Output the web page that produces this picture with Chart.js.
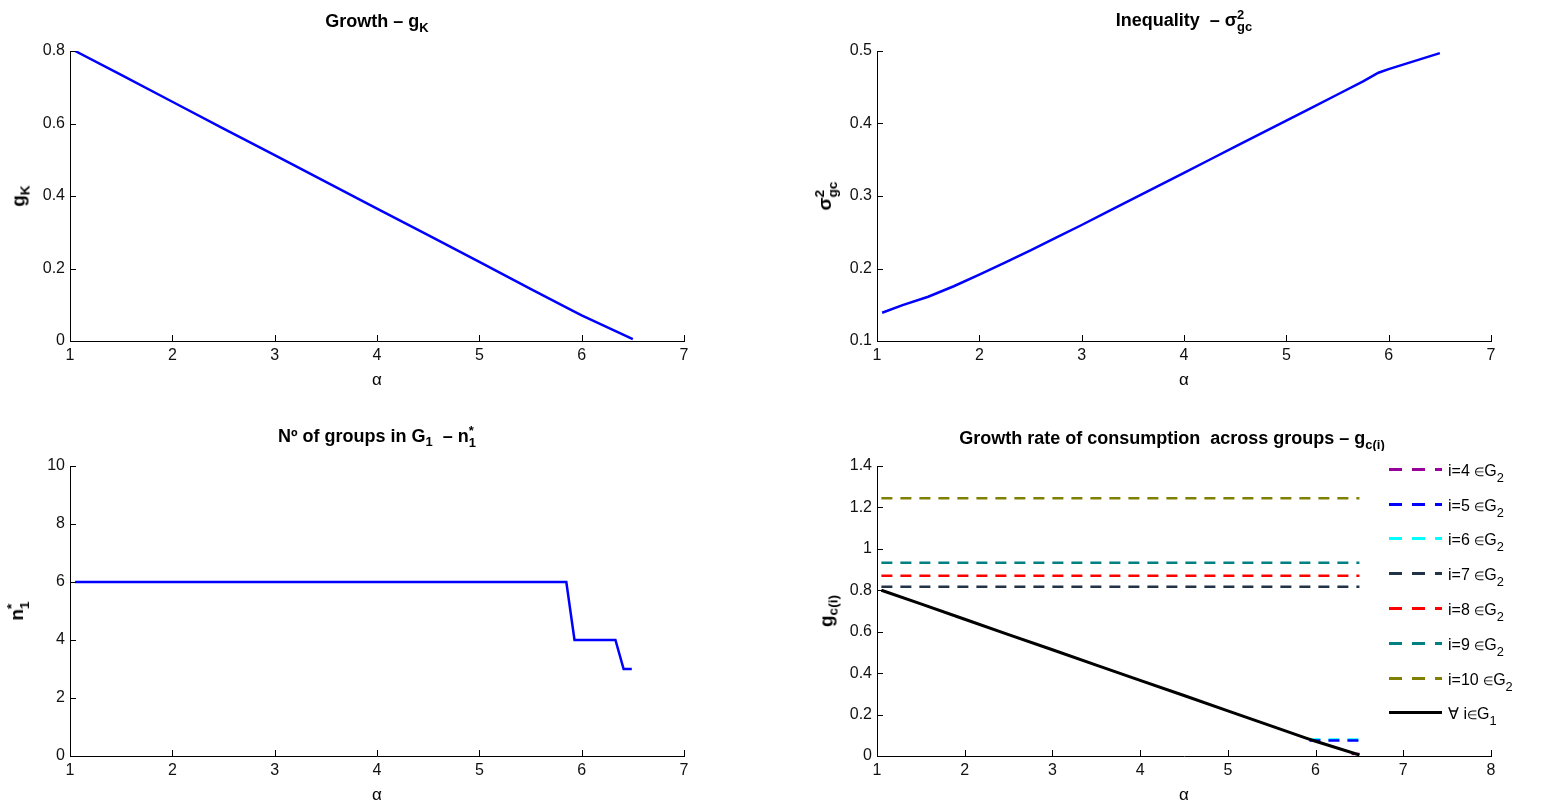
<!DOCTYPE html>
<html>
<head>
<meta charset="UTF-8">
<style>
  body { margin: 0; background: #fff; }
  #wrap { position: relative; width: 1541px; height: 805px; overflow: hidden; font-family: "Liberation Sans", Arial, sans-serif; color: #000; }
  canvas { position: absolute; }
  .lbl { position: absolute; transform: translate(-50%, -50%); white-space: nowrap; font-size: 17px; line-height: 1; }
  .ttl { font-weight: bold; font-size: 18px; }
  .rot { transform: translate(-50%, -50%) rotate(-90deg); font-weight: bold; font-size: 19px; }
  sub, sup { font-size: 0.72em; line-height: 0; }
  .st { display: inline-block; vertical-align: -0.42em; line-height: 0.95; font-size: 0.72em; }
  .st span { display: block; }
  .leg { position: absolute; left: 1389px; font-size: 16px; line-height: 1; }
  .leg div { position: absolute; white-space: nowrap; transform: translateY(-50%); }
  .leg i { display: inline-block; width: 53px; height: 3px; margin-right: 6px; vertical-align: 0.3em; }
  .leg b { font-weight: normal; font-size: 12px; }
  .leg sub { font-size: 0.8em; vertical-align: -0.5em; }
</style>
</head>
<body>
<div id="wrap">
  <canvas id="c1" width="720" height="400" style="left:0;top:0"></canvas>
  <canvas id="c2" width="740" height="400" style="left:800px;top:0"></canvas>
  <canvas id="c3" width="720" height="400" style="left:0;top:405px"></canvas>
  <canvas id="c4" width="741" height="400" style="left:800px;top:405px"></canvas>

  <div class="lbl ttl" style="left:377px;top:21px">Growth &ndash; g<sub>K</sub></div>
  <div class="lbl ttl" style="left:1184px;top:21px">Inequality &nbsp;&ndash; &sigma;<span class="st"><span>2</span><span>gc</span></span></div>
  <div class="lbl ttl" style="left:377px;top:437px">N&ordm; of groups in G<sub>1</sub> &nbsp;&ndash; n<span class="st"><span>*</span><span>1</span></span></div>
  <div style="position:absolute;left:0;top:420px;width:1541px;height:31px;overflow:hidden">
    <div class="lbl ttl" style="left:1172px;top:18px">Growth rate of consumption &nbsp;across groups &ndash; g<sub>c(i)</sub></div>
  </div>

  <div class="lbl rot" style="left:18px;top:196px">g<sub>K</sub></div>
  <div class="lbl rot" style="left:826px;top:196px">&sigma;<span class="st"><span>2</span><span>gc</span></span></div>
  <div class="lbl rot" style="left:18px;top:611px">n<span class="st"><span>*</span><span>1</span></span></div>
  <div class="lbl rot" style="left:826px;top:611px">g<sub>c(i)</sub></div>

  <div class="lbl" style="left:377px;top:379px">&alpha;</div>
  <div class="lbl" style="left:1184px;top:379px">&alpha;</div>
  <div class="lbl" style="left:377px;top:794px">&alpha;</div>
  <div class="lbl" style="left:1184px;top:794px">&alpha;</div>

  <div class="leg" id="legend"></div>
</div>

<script src="https://cdn.jsdelivr.net/npm/chart.js@4.4.1/dist/chart.umd.min.js"></script>
<script>
  // values
  const alpha = [1.05, 1.5, 2, 2.5, 3, 3.5, 4, 4.5, 5, 5.5, 5.9, 6, 6.5]
  const gK = [0.8, 0.734, 0.66, 0.586, 0.513, 0.439, 0.365, 0.292, 0.218, 0.144, 0.085, 0.071, 0.005]

  const sAlpha = [1.05, 1.25, 1.5, 1.75, 2, 2.25, 2.5, 2.75, 3, 3.25, 3.5, 3.75, 4, 4.25, 4.5, 4.75, 5, 5.25, 5.5, 5.75, 5.9, 6, 6.25, 6.5]
  const sigma2 = [0.139, 0.1495, 0.161, 0.1755, 0.1915, 0.208, 0.225, 0.2425, 0.260, 0.278, 0.296, 0.314, 0.332, 0.350, 0.368, 0.386, 0.404, 0.422, 0.440, 0.458, 0.470, 0.475, 0.486, 0.497]

  const nAlpha = [1.05, 5.85, 5.93, 6.33, 6.41, 6.49]
  const n1 = [6, 6, 4, 4, 3, 3]

  const groups = ['i=4', 'i=5', 'i=6', 'i=7', 'i=8', 'i=9', 'i=10']
  const groupLevel = [0.01, 0.075, 0.08, 0.817, 0.87, 0.933, 1.244]
  const groupFrom = [6.41, 5.93, 5.93, 1.05, 1.05, 1.05, 1.05]
  const groupTo = [6.5, 6.5, 6.5, 6.5, 6.5, 6.5, 6.5]
  const groupColor = ['#990099', '#0000ff', '#00ffff', '#223247', '#ff0000', '#008080', '#808000']

  Chart.defaults.font.family = '"Liberation Sans", Arial, sans-serif'
  Chart.defaults.font.size = 16
  Chart.defaults.color = '#000'
  Chart.defaults.animation = false

  const pts = (xs, ys) => xs.map((x, i) => ({ x: x, y: ys[i] }))

  // MATLAB style ticks pointing into the axes
  const inTicks = {
    id: 'inTicks',
    afterDraw(chart) {
      const { ctx, chartArea: a, scales: { x, y } } = chart
      ctx.save()
      ctx.strokeStyle = '#000'
      ctx.lineWidth = 1
      ctx.beginPath()
      x.ticks.forEach(t => {
        const px = Math.round(x.getPixelForValue(t.value)) + 0.5
        ctx.moveTo(px, a.bottom); ctx.lineTo(px, a.bottom - 6)
      })
      y.ticks.forEach(t => {
        const py = Math.round(y.getPixelForValue(t.value)) + 0.5
        ctx.moveTo(a.left, py); ctx.lineTo(a.left + 6, py)
      })
      ctx.stroke()
      ctx.restore()
    }
  }

  function makeChart(id, datasets, xmax, ymin, ymax, ystep, yw, xh, padTop, padRight) {
    return new Chart(document.getElementById(id), {
      type: 'line',
      data: { datasets: datasets },
      options: {
        responsive: false,
        layout: { padding: { top: padTop, right: padRight, left: 0, bottom: 0 } },
        plugins: { legend: { display: false }, tooltip: { enabled: false } },
        elements: { point: { radius: 0 }, line: { tension: 0, borderCapStyle: 'butt' } },
        scales: {
          x: {
            type: 'linear', min: 1, max: xmax,
            ticks: { stepSize: 1, padding: 5, color: '#111' },
            grid: { display: false, drawTicks: false },
            border: { display: true, color: '#000', width: 1 },
            afterFit: s => { s.height = xh }
          },
          y: {
            min: ymin, max: ymax,
            ticks: { stepSize: ystep, padding: 5, color: '#111', callback: v => String(+v.toFixed(2)) },
            grid: { display: false, drawTicks: false },
            border: { display: true, color: '#000', width: 1 },
            afterFit: s => { s.width = yw }
          }
        }
      },
      plugins: [inTicks]
    })
  }

  makeChart('c1', [{ data: pts(alpha, gK), borderColor: '#0000ff', borderWidth: 2.5 }],
    7, 0, 0.8, 0.2, 70, 59, 51, 36)

  makeChart('c2', [{ data: pts(sAlpha, sigma2), borderColor: '#0000ff', borderWidth: 2.5 }],
    7, 0.1, 0.5, 0.1, 77, 59, 51, 49)

  makeChart('c3', [{ data: pts(nAlpha, n1), borderColor: '#0000ff', borderWidth: 2.5 }],
    7, 0, 10, 2, 70, 49, 61, 36)

  const gcSets = groups.map((g, i) => ({
    label: g + ' \u2208 G2',
    data: pts([groupFrom[i], groupTo[i]], [groupLevel[i], groupLevel[i]]),
    borderColor: groupColor[i], borderWidth: 2.5, borderDash: [11, 8], order: i + 1
  }))
  gcSets.push({ label: '\u2200 i\u2208 G1', data: pts(alpha, gK), borderColor: '#000', borderWidth: 3, order: 0 })

  makeChart('c4', gcSets, 8, 0, 1.4, 0.2, 77, 49, 61, 50)

  // legend, drawn as text next to line samples
  const legend = document.getElementById('legend')
  const rowY = [471, 505.5, 540, 575, 609.5, 644.5, 679.5, 714]
  groups.forEach((g, i) => {
    const row = document.createElement('div')
    row.style.top = rowY[i] + 'px'
    row.innerHTML = '<i style="background:repeating-linear-gradient(to right,' + groupColor[i] +
      ' 0 13px, transparent 13px 23px)"></i>' + g + ' <b>&isin;</b>G<sub>2</sub>'
    legend.appendChild(row)
  })
  const last = document.createElement('div')
  last.style.top = rowY[7] + 'px'
  last.innerHTML = '<i style="background:#000"></i>&forall; i<b>&isin;</b>G<sub>1</sub>'
  legend.appendChild(last)
</script>
</body>
</html>
